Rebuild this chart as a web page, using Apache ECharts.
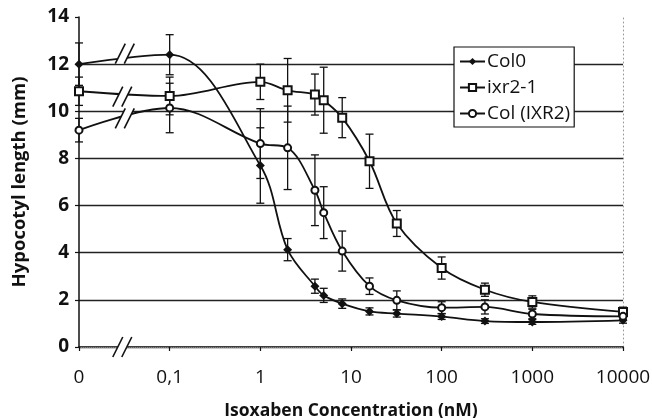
<!DOCTYPE html>
<html>
<head>
<meta charset="utf-8">
<script src="https://cdn.jsdelivr.net/npm/echarts@6/dist/echarts.min.js"></script>
<style>
html,body{margin:0;padding:0;background:#fff;}
#chart{width:652px;height:418px;}
</style>
</head>
<body>
<div id="chart"></div>
<script>
// ---- data ----
const concentrations = [0, 0.1, 1, 2, 4, 5, 8, 16, 32, 100, 300, 1000, 10000]; // nM
const zeroPosition = 0.01; // the "0" concentration is drawn one decade left of 0.1 (broken axis)

const col0Values     = [12.0, 12.4, 7.7, 4.13, 2.58, 2.19, 1.84, 1.51, 1.42, 1.29, 1.1, 1.06, 1.13];
const col0Errors     = [0.9, 0.85, 1.6, 0.47, 0.3, 0.3, 0.2, 0.15, 0.15, 0.12, 0.1, 0.1, 0.12];

const ixr2Values     = [10.85, 10.65, 11.25, 10.89, 10.71, 10.47, 9.73, 7.88, 5.24, 3.35, 2.43, 1.91, 1.49];
const ixr2Errors     = [0.6, 0.8, 0.75, 1.35, 0.87, 1.4, 0.85, 1.15, 0.55, 0.47, 0.28, 0.26, 0.2];

const colIxr2Values  = [9.2, 10.14, 8.63, 8.45, 6.65, 5.7, 4.07, 2.58, 1.98, 1.67, 1.7, 1.4, 1.3];
const colIxr2Errors  = [0.5, 1.05, 1.48, 1.77, 1.5, 1.1, 0.85, 0.35, 0.4, 0.25, 0.3, 0.2, 0.15];

const seriesNames = ['Col0', 'ixr2-1', 'Col (IXR2)'];
const yTicks = [0, 2, 4, 6, 8, 10, 12, 14];
const xTickLabels = ['0', '0,1', '1', '10', '100', '1000', '10000'];

// axis-break marks ("//"): [concentration position, value]
const breakMarks = [[0.032, 12.45], [0.03, 10.62], [0.032, 9.7], [0.03, 0]];

// ---- build ----
const xPlot = c => (c === 0 ? zeroPosition : c);
const pts = vals => concentrations.map((c, i) => [xPlot(c), vals[i]]);
const errPts = (vals, errs) => concentrations.map((c, i) => [xPlot(c), vals[i], errs[i]]);

const FONT = 'Open Sans';
const INK = '#111';

function errorSeries(name, vals, errs) {
  return {
    type: 'custom',
    name: name + ' err',
    z: 3,
    silent: true,
    encode: { x: 0, y: 1 },
    data: errPts(vals, errs),
    renderItem: (params, api) => {
      const x = api.value(0), y = api.value(1), e = api.value(2);
      const top = api.coord([x, y + e]);
      const bot = api.coord([x, y - e]);
      const hw = 4;
      const st = { stroke: INK, lineWidth: 1.3 };
      return {
        type: 'group',
        children: [
          { type: 'line', shape: { x1: top[0], y1: top[1], x2: bot[0], y2: bot[1] }, style: st },
          { type: 'line', shape: { x1: top[0] - hw, y1: top[1], x2: top[0] + hw, y2: top[1] }, style: st },
          { type: 'line', shape: { x1: bot[0] - hw, y1: bot[1], x2: bot[0] + hw, y2: bot[1] }, style: st }
        ]
      };
    }
  };
}

function lineSeries(name, vals, symbol, size, fill) {
  return {
    type: 'line',
    name: name,
    z: 4,
    data: pts(vals),
    smooth: 0.35,
    symbol: symbol,
    symbolSize: size,
    showAllSymbol: true,
    lineStyle: { color: INK, width: 1.8 },
    itemStyle: { color: fill, borderColor: INK, borderWidth: fill === INK ? 0 : 2 },
    emphasis: { disabled: true }
  };
}

const breakSeries = {
  type: 'custom',
  name: 'breaks',
  z: 6,
  silent: true,
  encode: { x: 0, y: 1 },
  data: breakMarks,
  renderItem: (params, api) => {
    const p = api.coord([api.value(0), api.value(1)]);
    const dx = 4.5, hx = 5, hy = 10;
    const a1 = [p[0] - dx - hx, p[1] + hy], b1 = [p[0] - dx + hx, p[1] - hy];
    const a2 = [p[0] + dx - hx, p[1] + hy], b2 = [p[0] + dx + hx, p[1] - hy];
    const st = { stroke: INK, lineWidth: 1.6 };
    return {
      type: 'group',
      children: [
        { type: 'polygon', shape: { points: [a1, b1, b2, a2] }, style: { fill: '#fff' } },
        { type: 'line', shape: { x1: a1[0], y1: a1[1], x2: b1[0], y2: b1[1] }, style: st },
        { type: 'line', shape: { x1: a2[0], y1: a2[1], x2: b2[0], y2: b2[1] }, style: st }
      ]
    };
  }
};

function xLabel(v) {
  const k = Math.round(Math.log10(v)) + 2;
  return xTickLabels[k] !== undefined ? xTickLabels[k] : '';
}

const chart = echarts.init(document.getElementById('chart'), null, { renderer: 'canvas' });
chart.setOption({
  animation: false,
  backgroundColor: '#fff',
  textStyle: { fontFamily: FONT },
  grid: { left: 79, right: 29, top: 17, bottom: 71, containLabel: false, outerBoundsMode: 'none' },
  legend: {
    data: seriesNames,
    orient: 'vertical',
    left: 454,
    top: 47,
    padding: [5, 4, 4, 5],
    itemGap: 7,
    itemWidth: 25,
    itemHeight: 9,
    backgroundColor: '#fff',
    borderColor: INK,
    borderWidth: 1.2,
    borderRadius: 0,
    z: 10,
    selectedMode: false,
    textStyle: { fontFamily: FONT, fontSize: 19, color: INK, lineHeight: 19, padding: [0, 0, 0, -3] }
  },
  xAxis: [{
    type: 'log',
    logBase: 10,
    min: zeroPosition,
    max: 10000,
    position: 'bottom',
    name: 'Isoxaben Concentration (nM)',
    nameLocation: 'middle',
    nameGap: 55,
    nameTextStyle: { fontFamily: FONT, fontSize: 17.5, fontWeight: 'bold', color: INK },
    axisLine: { show: true, lineStyle: { color: INK, width: 1.5 } },
    axisTick: { show: true, length: 4, lineStyle: { color: INK, width: 1.2 } },
    axisLabel: { formatter: xLabel, fontFamily: FONT, fontSize: 19, color: INK, margin: 21 },
    splitLine: { show: false },
    minorTick: { show: false }
  }, {
    type: 'log',
    logBase: 10,
    min: zeroPosition,
    max: 10000,
    position: 'top',
    axisLine: { show: true, lineStyle: { color: '#888', width: 1, type: [1, 1] } },
    axisTick: { show: false },
    axisLabel: { show: false },
    splitLine: { show: false }
  }],
  yAxis: [{
    type: 'value',
    min: yTicks[0],
    max: yTicks[yTicks.length - 1],
    interval: 2,
    name: 'Hypocotyl length (mm)',
    nameLocation: 'middle',
    nameGap: 50,
    nameTextStyle: { fontFamily: FONT, fontSize: 18.5, fontWeight: 'bold', color: INK },
    axisLine: { show: true, lineStyle: { color: INK, width: 1.5 } },
    axisTick: { show: true, length: 4, lineStyle: { color: INK, width: 1.2 } },
    axisLabel: { fontFamily: FONT, fontSize: 19, fontWeight: 'bold', color: INK, margin: 10 },
    splitLine: {
      show: true,
      lineStyle: { color: ['#222', '#222', '#222', '#222', '#222', '#222', '#222', 'rgba(0,0,0,0)'], width: 1.4 }
    }
  }, {
    type: 'value',
    min: yTicks[0],
    max: yTicks[yTicks.length - 1],
    position: 'right',
    axisLine: { show: true, lineStyle: { color: '#999', width: 1, type: [1, 3] } },
    axisTick: { show: false },
    axisLabel: { show: false },
    splitLine: { show: false }
  }],
  series: [
    errorSeries(seriesNames[0], col0Values, col0Errors),
    errorSeries(seriesNames[1], ixr2Values, ixr2Errors),
    errorSeries(seriesNames[2], colIxr2Values, colIxr2Errors),
    lineSeries(seriesNames[0], col0Values, 'diamond', 9, INK),
    lineSeries(seriesNames[1], ixr2Values, 'rect', 8, '#fff'),
    lineSeries(seriesNames[2], colIxr2Values, 'circle', 7, '#fff'),
    breakSeries
  ]
});
</script>
</body>
</html>
